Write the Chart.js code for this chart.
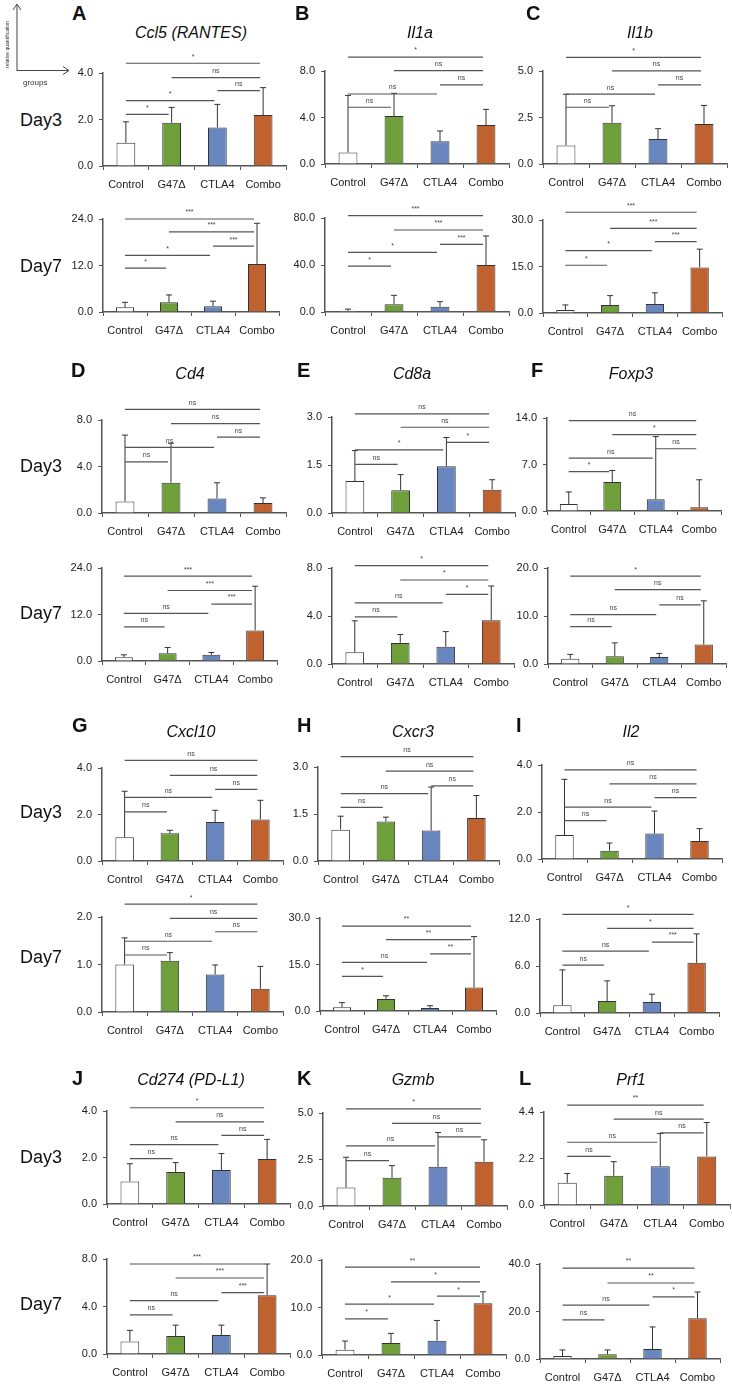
<!DOCTYPE html>
<html>
<head>
<meta charset="utf-8">
<script src="https://cdn.jsdelivr.net/npm/chart.js@4.4.0/dist/chart.umd.min.js"></script>
<style>
  body { margin: 0; background: #fff; }
  #page { position: relative; width: 732px; height: 1385px; background: #fff; overflow: hidden; font-family: "Liberation Sans", Arial, sans-serif; color: #111; }
  #page canvas { position: absolute; }
  .txt { position: absolute; white-space: nowrap; }
  .letter { font-weight: bold; font-size: 20px; transform: translateY(-50%); }
  .title { font-style: italic; font-size: 16px; transform: translate(-50%, -50%); }
  .day { font-size: 18px; transform: translateY(-50%); }
</style>
</head>
<body>
<div id="page"></div>
<script>
// groups and genes
const groups = ["Control", "G47Δ", "CTLA4", "Combo"];
const letters = ["A", "B", "C", "D", "E", "F", "G", "H", "I", "J", "K", "L"];
const genes = ["Ccl5 (RANTES)", "Il1a", "Il1b", "Cd4", "Cd8a", "Foxp3", "Cxcl10", "Cxcr3", "Il2", "Cd274 (PD-L1)", "Gzmb", "Prf1"];

// y axis top tick per panel
const yMaxDay3 = [4.0, 8.0, 5.0, 8.0, 3.0, 14.0, 4.0, 3.0, 4.0, 4.0, 5.0, 4.4];
const yMaxDay7 = [24.0, 80.0, 30.0, 24.0, 8.0, 20.0, 2.0, 30.0, 12.0, 8.0, 20.0, 40.0];

// relative quantification: mean and SD (Control, G47Δ, CTLA4, Combo)
const ccl5D3 = [1.0, 1.86, 1.66, 2.19],   ccl5D3Sd = [0.9, 0.66, 0.99, 1.18];
const ccl5D7 = [1.2, 2.5, 1.5, 12.4],     ccl5D7Sd = [1.3, 1.9, 1.3, 10.5];
const il1aD3 = [1.0, 4.13, 1.95, 3.35],   il1aD3Sd = [4.9, 1.95, 0.89, 1.35];
const il1aD7 = [1.0, 6.5, 4.5, 40.0],     il1aD7Sd = [1.5, 7.7, 4.3, 24.7];
const il1bD3 = [1.0, 2.22, 1.34, 2.15],   il1bD3Sd = [2.75, 0.91, 0.56, 1.0];
const il1bD7 = [1.0, 2.6, 2.9, 14.7],     il1bD7Sd = [1.6, 3.0, 3.6, 5.9];
const cd4D3 = [1.0, 2.6, 1.25, 0.85],     cd4D3Sd = [5.7, 3.4, 1.35, 0.45];
const cd4D7 = [1.0, 2.0, 1.6, 7.9],       cd4D7Sd = [0.6, 1.5, 0.6, 11.4];
const cd8aD3 = [1.0, 0.71, 1.46, 0.73],   cd8aD3Sd = [0.95, 0.49, 0.9, 0.31];
const cd8aD7 = [0.98, 1.76, 1.43, 3.64],  cd8aD7Sd = [2.62, 0.7, 1.27, 2.86];
const foxp3D3 = [1.06, 4.38, 1.76, 0.55], foxp3D3Sd = [1.81, 1.72, 9.44, 4.15];
const foxp3D7 = [1.1, 1.6, 1.45, 4.06],   foxp3D7Sd = [0.9, 2.8, 0.75, 9.1];
const cxcl10D3 = [1.02, 1.19, 1.68, 1.79], cxcl10D3Sd = [1.98, 0.13, 0.5, 0.82];
const cxcl10D7 = [1.0, 1.08, 0.79, 0.49],  cxcl10D7Sd = [0.56, 0.17, 0.2, 0.47];
const cxcr3D3 = [1.0, 1.26, 0.97, 1.37],  cxcr3D3Sd = [0.43, 0.14, 1.39, 0.72];
const cxcr3D7 = [1.2, 3.9, 1.0, 7.55],    cxcr3D7Sd = [1.5, 1.0, 0.7, 16.45];
const il2D3 = [1.02, 0.35, 1.08, 0.77],   il2D3Sd = [2.37, 0.33, 0.96, 0.52];
const il2D7 = [1.0, 1.54, 1.4, 6.4],      il2D7Sd = [4.5, 2.56, 1.0, 3.7];
const cd274D3 = [0.97, 1.38, 1.46, 1.94], cd274D3Sd = [0.76, 0.4, 0.71, 0.84];
const cd274D7 = [1.06, 1.51, 1.59, 4.95], cd274D7Sd = [0.93, 0.92, 0.84, 2.63];
const gzmbD3 = [0.99, 1.52, 2.11, 2.38],  gzmbD3Sd = [1.63, 0.65, 1.84, 1.18];
const gzmbD7 = [1.12, 2.52, 3.0, 10.9],   gzmbD7Sd = [1.82, 2.03, 4.27, 2.4];
const prf1D3 = [1.05, 1.38, 1.83, 2.3],   prf1D3Sd = [0.44, 0.67, 1.55, 1.6];
const prf1D7 = [1.27, 2.0, 4.2, 17.2],    prf1D7Sd = [2.53, 1.8, 9.3, 11.0];

// significance: [from group, to group, line height (data units), label]
const ccl5D3Sig = [[0,1,2.22,"*"],[0,2,2.81,"*"],[2,3,3.24,"ns"],[1,3,3.8,"ns"],[0,3,4.42,"*"]];
const ccl5D7Sig = [[0,1,11.3,"*"],[0,2,14.6,"*"],[2,3,17.0,"***"],[1,3,20.7,"***"],[0,3,24.0,"***"]];
const il1aD3Sig = [[0,1,4.88,"ns"],[0,2,6.02,"ns"],[2,3,6.8,"ns"],[1,3,8.03,"ns"],[0,3,9.2,"*"]];
const il1aD7Sig = [[0,1,39,"*"],[0,2,50.8,"*"],[2,3,57.6,"***"],[1,3,69.8,"***"],[0,3,82,"***"]];
const il1bD3Sig = [[0,1,3.05,"ns"],[0,2,3.76,"ns"],[2,3,4.25,"ns"],[1,3,5.01,"ns"],[0,3,5.73,"*"]];
const il1bD7Sig = [[0,1,15.4,"*"],[0,2,20.1,"*"],[2,3,23.0,"***"],[1,3,27.3,"***"],[0,3,32.5,"***"]];
const cd4D3Sig = [[0,1,4.4,"ns"],[0,2,5.65,"ns"],[2,3,6.53,"ns"],[1,3,7.68,"ns"],[0,3,8.92,"ns"]];
const cd4D7Sig = [[0,1,8.8,"ns"],[0,2,12.3,"ns"],[2,3,14.7,"***"],[1,3,18.2,"***"],[0,3,21.9,"***"]];
const cd8aD3Sig = [[0,1,1.52,"ns"],[0,2,1.97,"*"],[2,3,2.21,"*"],[1,3,2.68,"ns"],[0,3,3.1,"ns"]];
const cd8aD7Sig = [[0,1,3.92,"ns"],[0,2,5.1,"ns"],[2,3,5.8,"*"],[1,3,7.0,"*"],[0,3,8.2,"*"]];
const foxp3D3Sig = [[0,1,5.94,"*"],[0,2,7.96,"ns"],[2,3,9.37,"ns"],[1,3,11.5,"*"],[0,3,13.6,"ns"]];
const foxp3D7Sig = [[0,1,7.8,"ns"],[0,2,10.3,"ns"],[2,3,12.3,"ns"],[1,3,15.5,"ns"],[0,3,18.3,"*"]];
const cxcl10D3Sig = [[0,1,2.11,"ns"],[0,2,2.74,"ns"],[2,3,3.08,"ns"],[1,3,3.68,"ns"],[0,3,4.33,"ns"]];
const cxcl10D7Sig = [[0,1,1.2,"ns"],[0,2,1.49,"ns"],[2,3,1.69,"ns"],[1,3,1.97,"ns"],[0,3,2.27,"*"]];
const cxcr3D3Sig = [[0,1,1.71,"ns"],[0,2,2.15,"ns"],[2,3,2.4,"ns"],[1,3,2.87,"ns"],[0,3,3.33,"ns"]];
const cxcr3D7Sig = [[0,1,11.2,"*"],[0,2,15.7,"ns"],[2,3,18.4,"**"],[1,3,23.0,"**"],[0,3,27.4,"**"]];
const il2D3Sig = [[0,1,1.63,"ns"],[0,2,2.21,"ns"],[2,3,2.61,"ns"],[1,3,3.2,"ns"],[0,3,3.79,"ns"]];
const il2D7Sig = [[0,1,6.1,"ns"],[0,2,7.9,"ns"],[2,3,9.06,"***"],[1,3,10.8,"*"],[0,3,12.6,"*"]];
const cd274D3Sig = [[0,1,1.95,"ns"],[0,2,2.55,"ns"],[2,3,2.95,"ns"],[1,3,3.53,"ns"],[0,3,4.14,"*"]];
const cd274D7Sig = [[0,1,3.3,"ns"],[0,2,4.5,"ns"],[2,3,5.17,"***"],[1,3,6.4,"***"],[0,3,7.58,"***"]];
const gzmbD3Sig = [[0,1,2.44,"ns"],[0,2,3.23,"ns"],[2,3,3.72,"ns"],[1,3,4.44,"ns"],[0,3,5.22,"*"]];
const gzmbD7Sig = [[0,1,7.6,"*"],[0,2,10.7,"*"],[2,3,12.4,"*"],[1,3,15.4,"*"],[0,3,18.5,"**"]];
const prf1D3Sig = [[0,1,2.3,"ns"],[0,2,2.97,"ns"],[2,3,3.41,"ns"],[1,3,4.06,"ns"],[0,3,4.73,"**"]];
const prf1D7Sig = [[0,1,16.5,"ns"],[0,2,22.7,"ns"],[2,3,26.2,"*"],[1,3,32.0,"**"],[0,3,38.3,"**"]];

const day3Means = [ccl5D3, il1aD3, il1bD3, cd4D3, cd8aD3, foxp3D3, cxcl10D3, cxcr3D3, il2D3, cd274D3, gzmbD3, prf1D3];
const day3Sds = [ccl5D3Sd, il1aD3Sd, il1bD3Sd, cd4D3Sd, cd8aD3Sd, foxp3D3Sd, cxcl10D3Sd, cxcr3D3Sd, il2D3Sd, cd274D3Sd, gzmbD3Sd, prf1D3Sd];
const day3Sigs = [ccl5D3Sig, il1aD3Sig, il1bD3Sig, cd4D3Sig, cd8aD3Sig, foxp3D3Sig, cxcl10D3Sig, cxcr3D3Sig, il2D3Sig, cd274D3Sig, gzmbD3Sig, prf1D3Sig];
const day7Means = [ccl5D7, il1aD7, il1bD7, cd4D7, cd8aD7, foxp3D7, cxcl10D7, cxcr3D7, il2D7, cd274D7, gzmbD7, prf1D7];
const day7Sds = [ccl5D7Sd, il1aD7Sd, il1bD7Sd, cd4D7Sd, cd8aD7Sd, foxp3D7Sd, cxcl10D7Sd, cxcr3D7Sd, il2D7Sd, cd274D7Sd, gzmbD7Sd, prf1D7Sd];
const day7Sigs = [ccl5D7Sig, il1aD7Sig, il1bD7Sig, cd4D7Sig, cd8aD7Sig, foxp3D7Sig, cxcl10D7Sig, cxcr3D7Sig, il2D7Sig, cd274D7Sig, gzmbD7Sig, prf1D7Sig];

const barColors = ["#ffffff", "#6f9f3b", "#6a86be", "#c0622f"];

// layout: [y axis x, pixel of top tick, pixel of zero, category width]
const geoDay3 = [[103,73,166,45.7],[325,71,164,46],[543,71,164,46],
                 [102,420,513,46],[332,417,513,45.7],[547,418,511,43.5],
                 [102,768,861,45.3],[318,767,861,45.3],[542,765,859,45],
                 [106.5,1111,1204,45.8],[323,1113,1206,46],[544,1112,1205,46.5]];
const geoDay7 = [[103,219,312,44],[325,218,312,46],[543,220,313,44.7],
                 [102,568,661,43.7],[332,568,664,45.5],[548,568,664,44.5],
                 [102,917,1012,45.2],[320,918,1011,44],[540,919,1013,44.7],
                 [106.5,1259,1354,45.8],[322,1260,1355,46],[540,1264,1359,45]];
const letterPos = [[72,13],[295,13],[526,13],[71,370],[297,370],[531,370],
                   [72,725],[297,725],[516,725],[72,1078],[297,1078],[519,1078]];
const titlePos = [[191,33],[420,33],[640,33],[190,374],[412,374],[631,374],
                  [191,732],[413,732],[631,732],[191,1080],[413,1080],[631,1080]];
const day3Y = [120, 466, 812, 1157];
const day7Y = [266, 613, 957, 1304];

const page = document.getElementById("page");

const errorBars = {
  id: "errorBars",
  afterDatasetsDraw(chart, args, opts) {
    const ctx = chart.ctx, y = chart.scales.y;
    const meta = chart.getDatasetMeta(0);
    ctx.save();
    ctx.strokeStyle = "#333";
    ctx.lineWidth = 1;
    meta.data.forEach((bar, i) => {
      const top = y.getPixelForValue(opts.means[i] + opts.sds[i]);
      ctx.beginPath();
      ctx.moveTo(bar.x, bar.y);
      ctx.lineTo(bar.x, top);
      ctx.moveTo(bar.x - 3, top);
      ctx.lineTo(bar.x + 3, top);
      ctx.stroke();
    });
    ctx.restore();
  }
};

const sigBrackets = {
  id: "sigBrackets",
  afterDraw(chart, args, opts) {
    const ctx = chart.ctx, y = chart.scales.y;
    const meta = chart.getDatasetMeta(0);
    ctx.save();
    ctx.strokeStyle = "#555";
    ctx.fillStyle = "#444";
    ctx.lineWidth = 1.2;
    ctx.font = "7px 'Liberation Sans'";
    ctx.textAlign = "center";
    ctx.textBaseline = "bottom";
    opts.sig.forEach(([a, b, v, label]) => {
      const x1 = meta.data[a].x, x2 = meta.data[b].x - 3;
      const py = y.getPixelForValue(v);
      ctx.beginPath();
      ctx.moveTo(x1, py);
      ctx.lineTo(x2, py);
      ctx.stroke();
      ctx.fillText(label, (x1 + x2) / 2, py - 3);
    });
    ctx.restore();
  }
};

function makeChart(geo, means, sds, sig, yMax) {
  const [ax, yTop, y0, cw] = geo;
  const padTop = 30, yW = 40, xH = 30, right = 6;
  const canvas = document.createElement("canvas");
  canvas.width = Math.round(yW + 4 * cw + right);
  canvas.height = Math.round(padTop + (y0 - yTop) + xH);
  canvas.style.left = (ax - yW) + "px";
  canvas.style.top = (yTop - padTop) + "px";
  page.appendChild(canvas);
  const font = { family: "'Liberation Sans', Arial, sans-serif", size: 11 };
  new Chart(canvas, {
    type: "bar",
    data: {
      labels: groups,
      datasets: [{
        data: means,
        backgroundColor: barColors,
        borderColor: "#333",
        borderWidth: 1,
        barPercentage: 0.41,
        categoryPercentage: 1
      }]
    },
    options: {
      responsive: false,
      animation: false,
      events: [],
      layout: { padding: { top: padTop, right: right, left: 0, bottom: 0 } },
      plugins: {
        legend: { display: false },
        tooltip: { enabled: false },
        errorBars: { means: means, sds: sds },
        sigBrackets: { sig: sig }
      },
      scales: {
        x: {
          grid: { drawOnChartArea: false, tickLength: 4, color: "#555" },
          border: { color: "#555", width: 1.5 },
          ticks: { font: font, color: "#222", padding: 8, maxRotation: 0 },
          afterFit: s => { s.height = xH; }
        },
        y: {
          min: 0,
          max: yMax,
          afterBuildTicks: s => { s.ticks = [0, yMax / 2, yMax].map(v => ({ value: v })); },
          ticks: { font: font, color: "#222", padding: 6, callback: v => Number(v).toFixed(1) },
          grid: { drawOnChartArea: false, tickLength: 4, color: "#555" },
          border: { color: "#555", width: 1.5 },
          afterFit: s => { s.width = yW; }
        }
      }
    },
    plugins: [errorBars, sigBrackets]
  });
}

function addText(cls, text, x, y) {
  const d = document.createElement("div");
  d.className = "txt " + cls;
  d.textContent = text;
  d.style.left = x + "px";
  d.style.top = y + "px";
  page.appendChild(d);
}

for (let p = 0; p < 12; p++) {
  makeChart(geoDay3[p], day3Means[p], day3Sds[p], day3Sigs[p], yMaxDay3[p]);
  makeChart(geoDay7[p], day7Means[p], day7Sds[p], day7Sigs[p], yMaxDay7[p]);
  addText("letter", letters[p], letterPos[p][0], letterPos[p][1]);
  addText("title", genes[p], titlePos[p][0], titlePos[p][1]);
}
for (let r = 0; r < 4; r++) {
  addText("day", "Day3", 20, day3Y[r]);
  addText("day", "Day7", 20, day7Y[r]);
}

// corner key: axes arrows
const key = document.createElement("canvas");
key.width = 80; key.height = 92;
key.style.left = "0px"; key.style.top = "0px";
page.appendChild(key);
const k = key.getContext("2d");
k.strokeStyle = "#444"; k.fillStyle = "#444"; k.lineWidth = 1;
k.beginPath();
k.moveTo(17, 71); k.lineTo(17, 5);
k.moveTo(13, 10); k.lineTo(17, 4); k.lineTo(21, 10);
k.moveTo(17, 70.5); k.lineTo(68, 70.5);
k.moveTo(63, 66.5); k.lineTo(69, 70.5); k.lineTo(63, 74.5);
k.stroke();
k.font = "8px 'Liberation Sans'";
k.fillStyle = "#333";
k.fillText("groups", 23, 85);
k.save();
k.translate(9, 68);
k.rotate(-Math.PI / 2);
k.font = "5px 'Liberation Sans'";
k.fillText("relative quantification", 0, 0);
k.restore();
</script>
</body>
</html>
